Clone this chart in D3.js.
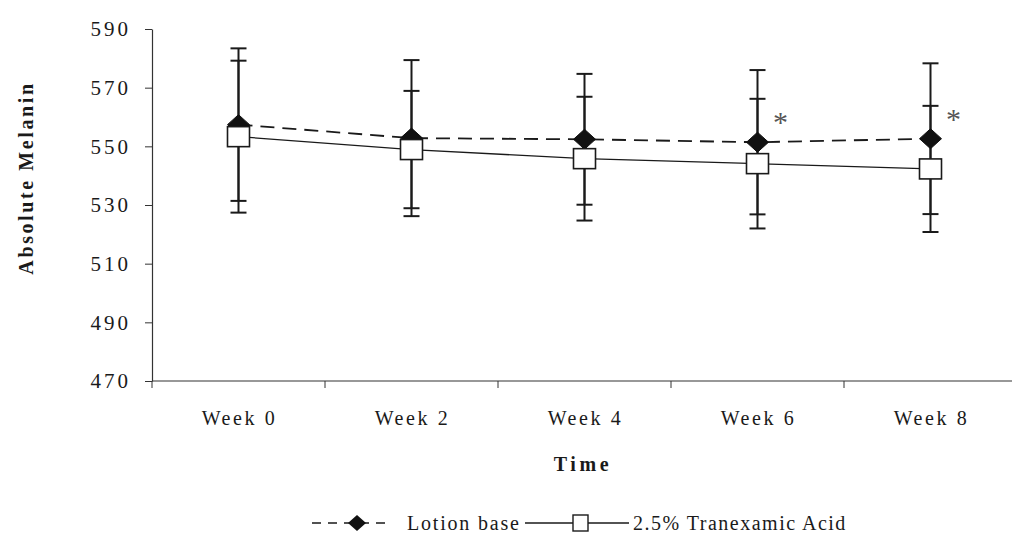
<!DOCTYPE html>
<html>
<head>
<meta charset="utf-8">
<script src="https://cdn.jsdelivr.net/npm/d3@7/dist/d3.min.js"></script>
<style>
  html, body { margin: 0; padding: 0; background: #fff; }
  svg { display: block; }
</style>
</head>
<body>
<svg id="chart" width="1012" height="535"></svg>
<script>
// Absolute melanin over the treatment period (mean ± SD)
const weeks = ["Week 0", "Week 2", "Week 4", "Week 6", "Week 8"];
const lotionBase = [557.4, 552.8, 552.4, 551.4, 552.6];
const lotionBaseSD = [26.0, 26.6, 22.3, 24.6, 25.7];
const tranexamic = [553.3, 548.9, 545.8, 544.1, 542.3];
const tranexamicSD = [25.9, 20.0, 21.1, 22.1, 21.5];
const significant = [false, false, false, true, true];
const yTicks = [470, 490, 510, 530, 550, 570, 590];

const FONT = "'Liberation Serif', 'Times New Roman', Times, serif";
const svg = d3.select("#chart");
const ink = "#1a1a1a";

const x = d3.scaleBand().domain(weeks).range([152, 1017]).padding(0);
const y = d3.scaleLinear().domain([470, 590]).range([381, 29]);
const cx = d => x(d) + x.bandwidth() / 2;

function label(sel, size, spacing, weight) {
  return sel.style("font-family", FONT)
    .style("font-size", size + "px")
    .style("letter-spacing", spacing + "px")
    .style("font-weight", weight || "normal")
    .style("fill", ink);
}

// ---- Y axis ----
const yAxis = d3.axisLeft(y).tickValues(yTicks).tickSize(7).tickSizeOuter(0).tickPadding(14);
const gy = svg.append("g").attr("transform", "translate(152,0)").call(yAxis);
gy.select(".domain").attr("stroke", "#333").attr("stroke-width", 1.2);
gy.selectAll(".tick line").attr("stroke", "#333");
label(gy.selectAll(".tick text"), 21, 3);

// ---- X axis: ticks at category boundaries, labels centred ----
const gx = svg.append("g").attr("transform", `translate(0,${y(470)})`);
gx.append("line").attr("x1", x.range()[0]).attr("x2", x.range()[1])
  .attr("stroke", "#333").attr("stroke-width", 1.2);
const bounds = weeks.map(w => x(w)).concat([x.range()[1]]);
gx.selectAll(".xtick").data(bounds).join("line")
  .attr("class", "xtick")
  .attr("x1", d => d).attr("x2", d => d).attr("y1", 0).attr("y2", 7)
  .attr("stroke", "#333");
label(gx.selectAll(".xlabel").data(weeks).join("text")
  .attr("class", "xlabel")
  .attr("x", d => cx(d) + 1).attr("y", 44)
  .attr("text-anchor", "middle")
  .text(d => d), 20, 2.6);

// ---- Axis titles ----
label(svg.append("text")
  .attr("transform", "translate(33,178) rotate(-90)")
  .attr("text-anchor", "middle")
  .text("Absolute Melanin"), 20, 2.6, "bold");
label(svg.append("text")
  .attr("x", 583).attr("y", 471)
  .attr("text-anchor", "middle")
  .text("Time"), 20, 3.6, "bold");

// ---- Series lines ----
const lineGen = d3.line().x(d => cx(d.week)).y(d => y(d.v));
const lotionPts = weeks.map((w, i) => ({ week: w, v: lotionBase[i], sd: lotionBaseSD[i], sig: significant[i] }));
const tranPts = weeks.map((w, i) => ({ week: w, v: tranexamic[i], sd: tranexamicSD[i] }));

svg.append("path").datum(lotionPts).attr("d", lineGen)
  .attr("fill", "none").attr("stroke", ink).attr("stroke-width", 1.8)
  .attr("stroke-dasharray", "14,8");
svg.append("path").datum(tranPts).attr("d", lineGen)
  .attr("fill", "none").attr("stroke", ink).attr("stroke-width", 1.3);

// ---- Error bars ----
function errorBars(pts, cls) {
  const g = svg.append("g").attr("class", cls);
  g.selectAll(".stem").data(pts).join("line")
    .attr("class", "stem")
    .attr("x1", d => cx(d.week)).attr("x2", d => cx(d.week))
    .attr("y1", d => y(d.v + d.sd)).attr("y2", d => y(d.v - d.sd))
    .attr("stroke", ink).attr("stroke-width", 2);
  ["top", "bottom"].forEach(side => {
    g.selectAll(".cap-" + side).data(pts).join("line")
      .attr("class", "cap-" + side)
      .attr("x1", d => cx(d.week) - 8).attr("x2", d => cx(d.week) + 8)
      .attr("y1", d => y(side === "top" ? d.v + d.sd : d.v - d.sd))
      .attr("y2", d => y(side === "top" ? d.v + d.sd : d.v - d.sd))
      .attr("stroke", ink).attr("stroke-width", 2);
  });
}
errorBars(lotionPts, "err-lotion");
errorBars(tranPts, "err-tran");

// ---- Markers ----
const diamond = (w, h) => `M0,${-h}L${w},0L0,${h}L${-w},0Z`;
svg.selectAll(".mk-lotion").data(lotionPts).join("path")
  .attr("class", "mk-lotion")
  .attr("transform", d => `translate(${cx(d.week)},${y(d.v)})`)
  .attr("d", diamond(11, 10))
  .attr("fill", "#111").attr("stroke", "#111").attr("stroke-width", 1);

svg.selectAll(".mk-tran").data(tranPts).join("rect")
  .attr("class", "mk-tran")
  .attr("x", d => cx(d.week) - 11).attr("y", d => y(d.v) - 10)
  .attr("width", 22).attr("height", 20)
  .attr("fill", "#fff").attr("stroke", ink).attr("stroke-width", 1.6);

// ---- Significance markers ----
label(svg.selectAll(".sig").data(lotionPts.filter(d => d.sig)).join("text")
  .attr("class", "sig")
  .attr("x", d => cx(d.week) + 23).attr("y", d => y(d.v) - 10)
  .attr("text-anchor", "middle")
  .text("*"), 30, 0).style("fill", "#555");

// ---- Legend ----
const lg = svg.append("g").attr("class", "legend");
lg.append("line").attr("x1", 312).attr("x2", 387).attr("y1", 523).attr("y2", 523)
  .attr("stroke", ink).attr("stroke-width", 1.6).attr("stroke-dasharray", "9,7");
lg.append("path").attr("transform", "translate(357,523)").attr("d", diamond(9, 8))
  .attr("fill", "#111");
label(lg.append("text").attr("x", 407).attr("y", 530).text("Lotion base"), 20, 1.8);
lg.append("line").attr("x1", 525).attr("x2", 629).attr("y1", 523).attr("y2", 523)
  .attr("stroke", ink).attr("stroke-width", 1.3);
lg.append("rect").attr("x", 573).attr("y", 515).attr("width", 15).attr("height", 16)
  .attr("fill", "#fff").attr("stroke", ink).attr("stroke-width", 1.4);
label(lg.append("text").attr("x", 633).attr("y", 530).text("2.5% Tranexamic Acid"), 20, 1.5);
</script>
</body>
</html>
